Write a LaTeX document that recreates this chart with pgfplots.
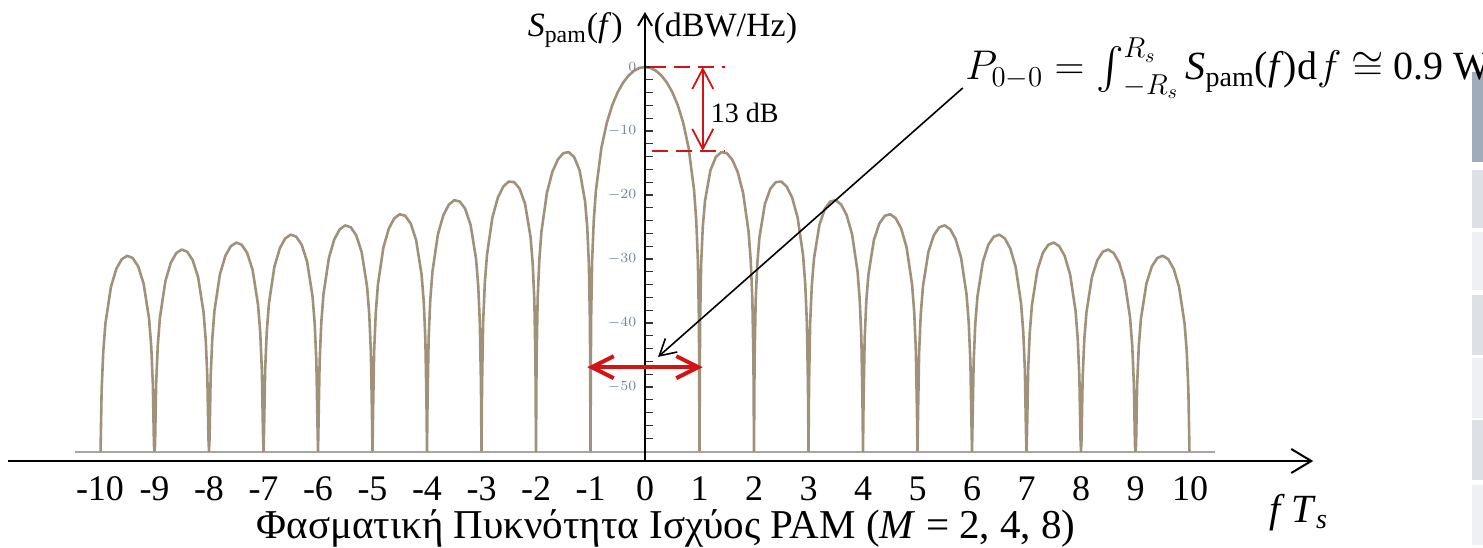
\documentclass[border=0pt]{standalone}
\usepackage{fontspec}
\setmainfont{Liberation Serif}
\usepackage{exscale}
\usepackage{pgfplots}
\pgfplotsset{compat=1.18}
\usepackage{pgfplotstable}
\usetikzlibrary{arrows.meta}
\definecolor{curve}{RGB}{160,146,122}
\definecolor{ared}{RGB}{210,20,20}
\definecolor{tlab}{RGB}{110,132,160}
\definecolor{boxA}{RGB}{160,172,186}
\definecolor{boxB}{RGB}{221,225,230}
\definecolor{boxC}{RGB}{238,240,243}
\newcommand\fs[1]{\fontsize{#1}{#1}\selectfont}

% PSD of PAM in dB, positive frequencies (fT_s), floor at -60 dB
\pgfplotstableread{
x y
0 0
0.1 -0.14
0.2 -0.58
0.3 -1.33
0.4 -2.42
0.5 -3.92
0.6 -5.94
0.7 -8.69
0.8 -12.62
0.9 -19.23
0.94 -23.95
0.97 -30.21
0.99 -39.91
1 -60
1.01 -40.09
1.03 -30.73
1.06 -25.00
1.1 -20.97
1.2 -16.15
1.3 -14.06
1.4 -13.31
1.5 -13.46
1.6 -14.47
1.7 -16.39
1.8 -19.67
1.9 -25.72
1.94 -30.25
1.97 -36.36
1.99 -45.98
2 -60
2.01 -46.07
2.03 -36.62
2.06 -30.77
2.1 -26.59
2.2 -21.41
2.3 -19.02
2.4 -17.99
2.5 -17.90
2.6 -18.68
2.7 -20.41
2.8 -23.51
2.9 -29.39
2.94 -33.86
2.97 -39.93
2.99 -49.52
3 -60
3.01 -49.57
3.03 -40.10
3.06 -34.21
3.1 -29.97
3.2 -24.67
3.3 -22.15
3.4 -21.01
3.5 -20.82
3.6 -21.51
3.7 -23.15
3.8 -26.16
3.9 -31.96
3.94 -36.40
3.97 -42.45
3.99 -52.02
4 -60
4.01 -52.07
4.03 -42.58
4.06 -36.66
4.1 -32.40
4.2 -27.03
4.3 -24.45
4.4 -23.25
4.5 -23.01
4.6 -23.64
4.7 -25.23
4.8 -28.19
4.9 -33.95
4.94 -38.37
4.97 -44.40
4.99 -53.97
5 -60
5.01 -54.00
5.03 -44.50
5.06 -38.58
5.1 -34.29
5.2 -28.88
5.3 -26.27
5.4 -25.03
5.5 -24.75
5.6 -25.35
5.7 -26.90
5.8 -29.83
5.9 -35.56
5.94 -39.97
5.97 -45.99
5.99 -55.55
6 -60
6.01 -55.58
6.03 -46.08
6.06 -40.14
6.1 -35.85
6.2 -30.41
6.3 -27.77
6.4 -26.51
6.5 -26.20
6.6 -26.77
6.7 -28.31
6.8 -31.21
6.9 -36.92
6.94 -41.32
6.97 -47.34
6.99 -56.89
7 -60
7.01 -56.92
7.03 -47.41
7.06 -41.47
7.1 -37.17
7.2 -31.71
7.3 -29.05
7.4 -27.77
7.5 -27.44
7.6 -28.00
7.7 -29.51
7.8 -32.41
7.9 -38.10
7.94 -42.49
7.97 -48.50
7.99 -58.05
8 -60
8.01 -58.08
8.03 -48.57
8.06 -42.62
8.1 -38.31
8.2 -32.84
8.3 -30.17
8.4 -28.87
8.5 -28.53
8.6 -29.07
8.7 -30.57
8.8 -33.45
8.9 -39.13
8.94 -43.52
8.97 -49.53
8.99 -59.08
9 -60
9.01 -59.10
9.03 -49.59
9.06 -43.64
9.1 -39.32
9.2 -33.84
9.3 -31.15
9.4 -29.85
9.5 -29.50
9.6 -30.03
9.7 -31.52
9.8 -34.39
9.9 -40.06
9.94 -44.44
9.97 -50.45
9.99 -60.00
10 -60
}\pos

\begin{document}
\begin{tikzpicture}
\path[use as bounding box] (0,0) rectangle (741.5pt,273.5pt);
\begin{axis}[
  at={(50pt,48pt)}, anchor=south west,
  x=27.25pt, y=3.2pt,
  xmin=-10, xmax=10, ymin=-60, ymax=0,
  hide axis, clip=false,
]
% side panel strip on the right edge
\fill[boxA] (axis cs:15.17,-0.78) rectangle (axis cs:16,-14.84);
\fill[boxB] (axis cs:15.17,-16.09) rectangle (axis cs:16,-25.16);
\fill[boxC] (axis cs:15.17,-25.78) rectangle (axis cs:16,-34.84);
\fill[boxB] (axis cs:15.17,-35.63) rectangle (axis cs:16,-45.0);
\fill[boxC] (axis cs:15.17,-45.47) rectangle (axis cs:16,-54.84);
\fill[boxB] (axis cs:15.17,-55.16) rectangle (axis cs:16,-64.53);
\fill[boxC] (axis cs:15.17,-65.31) rectangle (axis cs:16,-74.69);

% plot baseline
\draw[gray!70, line width=0.6pt] (axis cs:-10.46,-60.16) -- (axis cs:10.46,-60.16);

\addplot[curve, line width=1.3pt, line join=round] table {\pos};
\addplot[curve, line width=1.3pt, line join=round] table[x expr=-\thisrow{x}] {\pos};

% inner dB scale
\pgfplotsinvokeforeach{0,-2,...,-58}{
  \draw[black!80, line width=0.6pt] (axis cs:0,#1) -- (axis cs:0.15,#1);
}
\pgfplotsinvokeforeach{0,-10,...,-50}{
  \node[anchor=east, text=tlab, font=\sffamily\fs{7.5}, inner sep=0pt] at (axis cs:-0.15,#1) {$#1$};
}

% main axes
\draw[black, line width=1pt, -{Straight Barb[length=10pt,width=12pt]}] (axis cs:-11.69,-61.56) -- (axis cs:12.26,-61.56);
\draw[black, line width=1pt, -{Straight Barb[length=6pt,width=7pt]}] (axis cs:0,-61.56) -- (axis cs:0,8.6);

\node[anchor=base east, font=\fs{17}, inner sep=0pt] at (axis cs:-0.4,4.7) {\textit{S}\textsubscript{pam}(\textit{f})};
\node[anchor=base west, font=\fs{17}, inner sep=0pt] at (axis cs:0.15,4.7) {(dBW/Hz)};

\pgfplotsinvokeforeach{-10,-9,...,10}{
  \node[anchor=base, font=\fs{18}, inner sep=0pt] at (axis cs:#1,-67.8) {#1};
}
\node[anchor=base, font=\fs{20}, inner sep=0pt] at (axis cs:12.0,-71.1) {\textit{f}\hspace{0.15em}\textit{T}\textsubscript{\textit{s}}};
\node[anchor=base, font=\fs{20.5}, inner sep=0pt] at (axis cs:0.39,-73.6) {Φασματική Πυκνότητα Ισχύος PAM (\textit{M} = 2, 4, 8)};

% 13 dB annotation
\draw[ared, line width=1pt, dash pattern=on 8pt off 4pt] (axis cs:0.09,0) -- (axis cs:1.47,0);
\draw[ared, line width=1pt, dash pattern=on 8pt off 4pt] (axis cs:0.13,-13.1) -- (axis cs:1.47,-13.1);
\draw[ared, line width=0.9pt, {Straight Barb[length=10pt,width=10.5pt]}-{Straight Barb[length=10pt,width=10.5pt]}] (axis cs:1.06,0) -- (axis cs:1.06,-13.1);
\node[anchor=base west, font=\fs{14}, inner sep=0pt] at (axis cs:1.2,-8.6) {13 dB};

% main lobe bandwidth
\draw[ared, line width=2pt, {Straight Barb[length=11pt,width=11pt]}-{Straight Barb[length=11pt,width=11pt]}] (axis cs:-1.06,-46.9) -- (axis cs:1.06,-46.9);

% power annotation
\draw[black, line width=0.8pt, -{Straight Barb[length=8pt,width=9pt]}] (axis cs:5.83,-3.28) -- (axis cs:0.24,-45.3);
\node[anchor=base west, font=\fs{20}, inner sep=0pt] at (axis cs:5.87,-2.03) {$P_{0-0} = {\textstyle\int}_{-R_s}^{R_s}$\,\textit{S}\textsubscript{pam}(\textit{f})d$f$ $\cong$ 0.9 W};
\end{axis}
\end{tikzpicture}
\end{document}
